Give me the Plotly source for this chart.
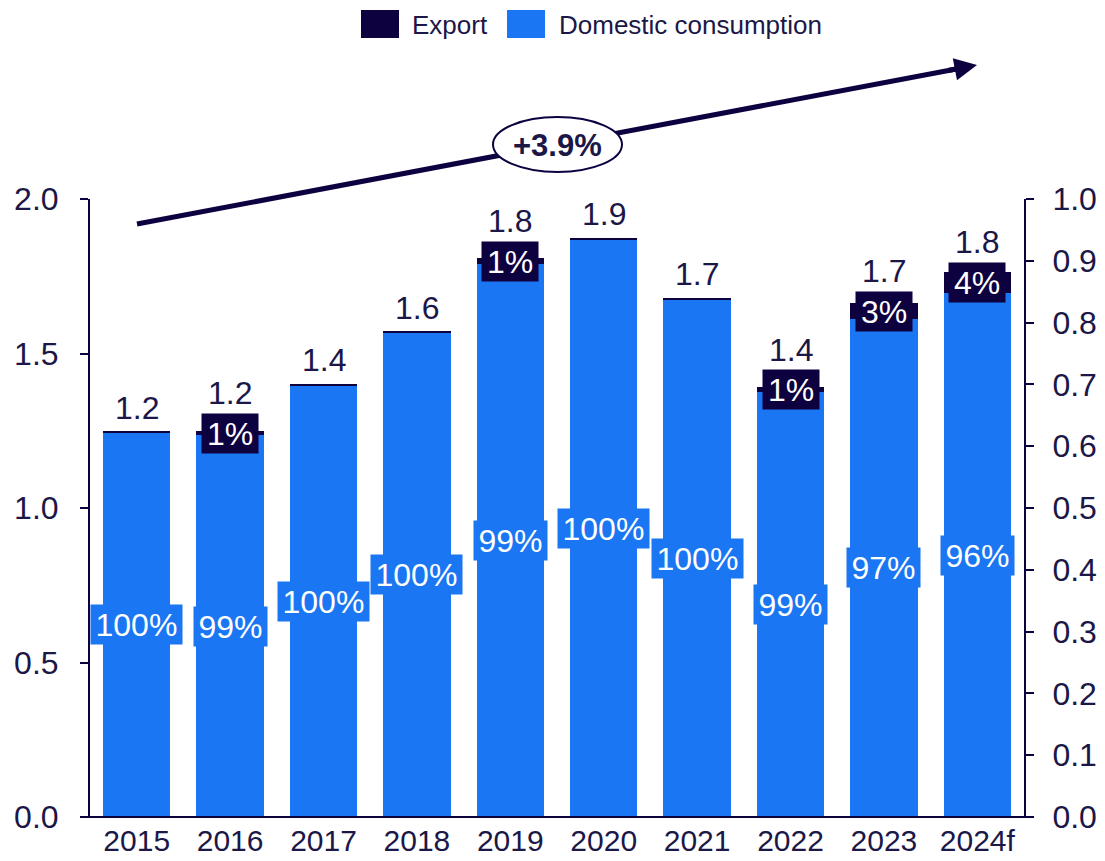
import plotly.graph_objects as go

# Volumes by year (million units), split into domestic consumption and export
years = ["2015", "2016", "2017", "2018", "2019", "2020", "2021", "2022", "2023", "2024f"]
domestic = [1.245, 1.236, 1.396, 1.568, 1.790, 1.870, 1.675, 1.376, 1.612, 1.695]
export = [0.002, 0.013, 0.004, 0.002, 0.018, 0.004, 0.005, 0.014, 0.050, 0.070]
cagr_label = "+3.9%"

BLUE = "#1a76f2"
NAVY = "#0e0140"
TEXT = "#1b1747"
FONT = "Liberation Sans, Arial, sans-serif"
FS = 32

W, H = 1105, 861
ML, MR, MT, MB = 90, 81, 199, 44
PW, PH = W - ML - MR, H - MT - MB


def px_x(px):
    return (px - ML) / PW


def px_y(py):
    return (H - MB - py) / PH


def text_width(s, size):
    glyph = {"%": 0.889, ".": 0.278}
    return sum(glyph.get(c, 0.556) for c in s) * size


pos = list(range(len(years)))
totals = [d + e for d, e in zip(domestic, export)]

fig = go.Figure()
fig.add_trace(go.Bar(x=pos, y=domestic, name="Domestic consumption",
                     marker=dict(color=BLUE, line=dict(width=0))))
fig.add_trace(go.Bar(x=pos, y=export, name="Export",
                     marker=dict(color=NAVY, line=dict(width=0))))
# invisible trace that activates the right-hand axis
fig.add_trace(go.Scatter(x=[pos[0]], y=[0], yaxis="y2", mode="markers",
                         marker=dict(opacity=0), showlegend=False,
                         hoverinfo="skip"))

annotations = []
for i, d, e, t in zip(pos, domestic, export, totals):
    dom_share = round(d / t * 100)
    exp_share = round(e / t * 100)
    lbl = f"{dom_share}%"
    annotations.append(dict(x=i, y=d / 2, xref="x", yref="y", text=lbl,
                            showarrow=False, bgcolor=BLUE, borderpad=0,
                            width=text_width(lbl, FS) + 9, height=39,
                            font=dict(family=FONT, size=FS, color="white")))
    if exp_share >= 1:
        lbl = f"{exp_share}%"
        annotations.append(dict(x=i, y=d + e / 2, xref="x", yref="y", text=lbl,
                                showarrow=False, bgcolor=NAVY, borderpad=0,
                                width=text_width(lbl, FS) + 10, height=39,
                                font=dict(family=FONT, size=FS, color="white")))
        annotations.append(dict(x=i, y=d + e / 2, xref="x", yref="y",
                                text=f"{t:.1f}", showarrow=False,
                                yanchor="bottom", yshift=20,
                                font=dict(family=FONT, size=FS, color=TEXT)))
    else:
        annotations.append(dict(x=i, y=t, xref="x", yref="y",
                                text=f"{t:.1f}", showarrow=False,
                                yanchor="bottom", yshift=4,
                                font=dict(family=FONT, size=FS, color=TEXT)))

# growth arrow: head only (shaft is a shape so the ellipse can sit over it)
tip = (977, 65)
tail = (137, 224)
annotations.append(dict(x=px_x(tip[0]), y=px_y(tip[1]), xref="paper", yref="paper",
                        text="", showarrow=True, arrowhead=2, arrowsize=0.9,
                        arrowwidth=5, arrowcolor=NAVY, standoff=0,
                        ax=-29.5, ay=5.6))
annotations.append(dict(x=px_x(557), y=px_y(145), xref="paper", yref="paper",
                        text=f"<b>{cagr_label}</b>", showarrow=False,
                        xanchor="center", yanchor="middle",
                        font=dict(family=FONT, size=31, color=TEXT)))

# legend
legend_items = [("Export", NAVY, 361, 410), ("Domestic consumption", BLUE, 507, 557)]
shapes = []
for name, col, sx, tx in legend_items:
    shapes.append(dict(type="rect", xref="paper", yref="paper",
                       x0=px_x(sx), x1=px_x(sx + 38), y0=px_y(38), y1=px_y(10),
                       fillcolor=col, line=dict(width=0)))
    annotations.append(dict(x=px_x(tx), y=px_y(25), xref="paper", yref="paper",
                            text=name, showarrow=False, xanchor="left",
                            yanchor="middle",
                            font=dict(family=FONT, size=26, color=TEXT)))

shapes.append(dict(type="line", xref="paper", yref="paper",
                   x0=px_x(tail[0]), y0=px_y(tail[1]),
                   x1=px_x(tip[0] - 14), y1=px_y(tip[1] + 2.7),
                   line=dict(color=NAVY, width=5)))
shapes.append(dict(type="circle", xref="paper", yref="paper",
                   x0=px_x(493), x1=px_x(622), y0=px_y(172), y1=px_y(117),
                   fillcolor="white", line=dict(color=NAVY, width=2)))
# baseline extending past both value axes
shapes.append(dict(type="line", xref="paper", yref="paper",
                   x0=px_x(82), x1=px_x(1033), y0=0, y1=0,
                   line=dict(color=NAVY, width=2)))

fig.update_layout(
    width=W, height=H,
    margin=dict(l=ML, r=MR, t=MT, b=MB),
    barmode="stack", bargap=0.28,
    plot_bgcolor="white", paper_bgcolor="white",
    showlegend=False,
    font=dict(family=FONT, size=FS, color=TEXT),
    xaxis=dict(range=[-0.5, len(years) - 0.5], tickmode="array",
               tickvals=pos, ticktext=years, showline=False, ticks="",
               showgrid=False, zeroline=False, automargin=False,
               tickfont=dict(size=30, color=TEXT), ticklabelstandoff=3),
    yaxis=dict(range=[0, 2], dtick=0.5, tickformat=".1f", showgrid=False,
               zeroline=False, showline=True, linecolor=NAVY, linewidth=2,
               ticks="outside", ticklen=8, tickwidth=2, tickcolor=NAVY,
               automargin=False,
               tickfont=dict(size=FS, color=TEXT), ticklabelstandoff=15),
    yaxis2=dict(range=[0, 1], dtick=0.1, tickformat=".1f", overlaying="y",
                side="right", showgrid=False, zeroline=False, showline=True,
                linecolor=NAVY, linewidth=2, ticks="outside", ticklen=8,
                tickwidth=2, tickcolor=NAVY, automargin=False,
                tickfont=dict(size=FS, color=TEXT), ticklabelstandoff=12),
    annotations=annotations,
    shapes=shapes,
)

fig.write_html("out.html")
